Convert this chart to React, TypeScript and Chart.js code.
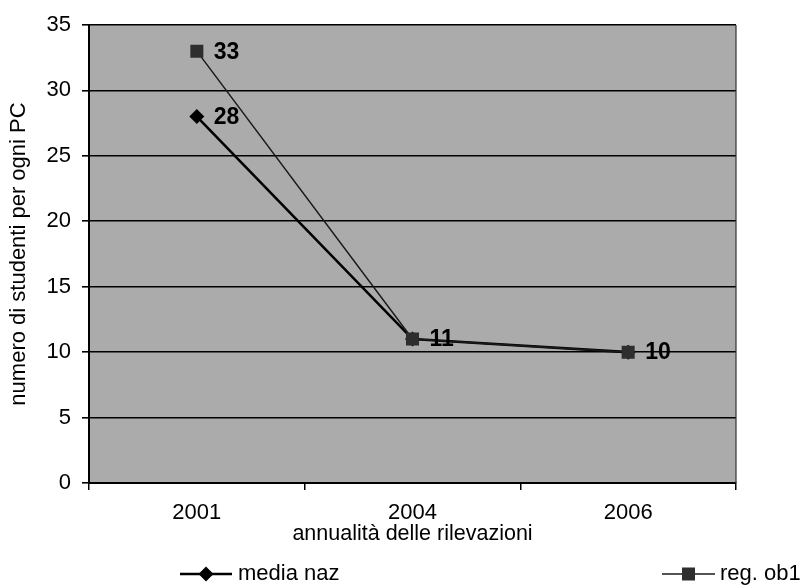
import React, { useEffect, useRef } from "react";
import { Chart, registerables } from "chart.js";

Chart.register(...registerables);

// ---- data ----
const categories = ["2001", "2004", "2006"];
const mediaNaz = [28, 11, 10];
const regOb1 = [33, 11, 10];
const seriesNames = ["media naz", "reg. ob1"];
const yMin = 0;
const yMax = 35;
const yStep = 5;
const xTitle = "annualità delle rilevazioni";
const yTitle = "numero di studenti per ogni PC";

const FONT = "'Liberation Sans', Arial, Helvetica, sans-serif";

const plotBg = {
  id: "plotBg",
  beforeDraw(chart: any) {
    const { ctx, chartArea: a } = chart;
    ctx.save();
    ctx.fillStyle = "#ababab";
    ctx.fillRect(a.left, a.top, a.right - a.left, a.bottom - a.top);
    ctx.restore();
  },
  afterDraw(chart: any) {
    const { ctx, chartArea: a } = chart;
    ctx.save();
    ctx.strokeStyle = "#333";
    ctx.lineWidth = 1.2;
    ctx.beginPath();
    ctx.moveTo(a.right, a.top);
    ctx.lineTo(a.right, a.bottom);
    ctx.stroke();
    ctx.restore();
  },
};

const dataLabels = {
  id: "dataLabels",
  afterDatasetsDraw(chart: any) {
    const ctx = chart.ctx;
    const drawn = new Set<string>();
    ctx.save();
    ctx.font = `bold 23px ${FONT}`;
    ctx.fillStyle = "#000";
    ctx.textAlign = "left";
    ctx.textBaseline = "middle";
    chart.data.datasets.forEach((ds: any, di: number) => {
      const meta = chart.getDatasetMeta(di);
      meta.data.forEach((pt: any, i: number) => {
        const v = ds.data[i];
        const key = i + ":" + v;
        if (drawn.has(key)) return;
        drawn.add(key);
        ctx.fillText(String(v), pt.x + 17, pt.y + 1);
      });
    });
    ctx.restore();
  },
};

const customLegend = {
  id: "customLegend",
  afterDraw(chart: any) {
    const ctx = chart.ctx;
    const y = 574;
    const items = [
      { di: 0, x0: 180, x1: 232, tx: 238 },
      { di: 1, x0: 662, x1: 715, tx: 720 },
    ];
    ctx.save();
    items.forEach((it) => {
      const ds = chart.data.datasets[it.di];
      ctx.strokeStyle = ds.borderColor;
      ctx.lineWidth = ds.borderWidth;
      ctx.beginPath();
      ctx.moveTo(it.x0, y);
      ctx.lineTo(it.x1, y);
      ctx.stroke();
      const cx = (it.x0 + it.x1) / 2;
      ctx.fillStyle = ds.pointBackgroundColor;
      if (ds.pointStyle === "rectRot") {
        const r = ds.pointRadius;
        ctx.beginPath();
        ctx.moveTo(cx, y - r);
        ctx.lineTo(cx + r, y);
        ctx.lineTo(cx, y + r);
        ctx.lineTo(cx - r, y);
        ctx.closePath();
        ctx.fill();
      } else {
        const s = ds.pointRadius * Math.SQRT1_2;
        ctx.fillRect(cx - s, y - s, 2 * s, 2 * s);
      }
      ctx.fillStyle = "#000";
      ctx.font = `22px ${FONT}`;
      ctx.textAlign = "left";
      ctx.textBaseline = "middle";
      ctx.fillText(ds.label, it.tx, y);
    });
    ctx.restore();
  },
};

export default function App() {
  const ref = useRef<HTMLCanvasElement | null>(null);

  useEffect(() => {
    if (!ref.current) return;
    const chart = new Chart(ref.current, {
      type: "line",
      data: {
        labels: categories,
        datasets: [
          {
            label: seriesNames[0],
            data: mediaNaz,
            borderColor: "#000",
            borderWidth: 2.6,
            pointStyle: "rectRot",
            pointRadius: 7.5,
            pointBackgroundColor: "#000",
            pointBorderColor: "#000",
            pointBorderWidth: 0,
            tension: 0,
            order: 2,
          },
          {
            label: seriesNames[1],
            data: regOb1,
            borderColor: "#1a1a1a",
            borderWidth: 1.5,
            pointStyle: "rect",
            pointRadius: 9.2,
            pointBackgroundColor: "#2e2e2e",
            pointBorderColor: "#2e2e2e",
            pointBorderWidth: 0,
            tension: 0,
            order: 1,
          },
        ],
      },
      options: {
        responsive: false,
        animation: false,
        layout: { padding: { top: 25, right: 69, bottom: 39.4, left: 0 } },
        plugins: {
          legend: { display: false },
          tooltip: { enabled: false },
        },
        scales: {
          x: {
            type: "category",
            offset: true,
            grid: {
              display: true,
              drawOnChartArea: false,
              drawTicks: true,
              tickLength: 7,
              offset: true,
              color: "#000",
              lineWidth: 1.5,
            },
            border: { display: true, color: "#000", width: 2 },
            ticks: {
              font: { family: FONT, size: 22 },
              color: "#000",
              padding: 10,
              maxRotation: 0,
              autoSkip: false,
            },
            title: {
              display: true,
              text: xTitle,
              font: { family: FONT, size: 21.5 },
              color: "#000",
              padding: { top: 0, bottom: 0 },
            },
            afterFit: (s: any) => {
              s.height = 63.6;
            },
          },
          y: {
            min: yMin,
            max: yMax,
            ticks: {
              stepSize: yStep,
              font: { family: FONT, size: 22 },
              color: "#000",
              padding: 11,
            },
            grid: {
              color: "#000",
              lineWidth: 1.6,
              tickLength: 7,
              drawTicks: true,
            },
            border: { display: true, color: "#000", width: 2 },
            title: {
              display: true,
              text: yTitle,
              font: { family: FONT, size: 22 },
              color: "#000",
              padding: { top: 6, bottom: 0 },
            },
            afterFit: (s: any) => {
              s.width = 89;
            },
          },
        },
      },
      plugins: [plotBg, dataLabels, customLegend],
    } as any);
    return () => chart.destroy();
  }, []);

  return (
    <div style={{ position: "fixed", left: 0, top: 0, width: 805, height: 586, background: "#fff" }}>
      <canvas ref={ref} width={805} height={586} />
    </div>
  );
}
